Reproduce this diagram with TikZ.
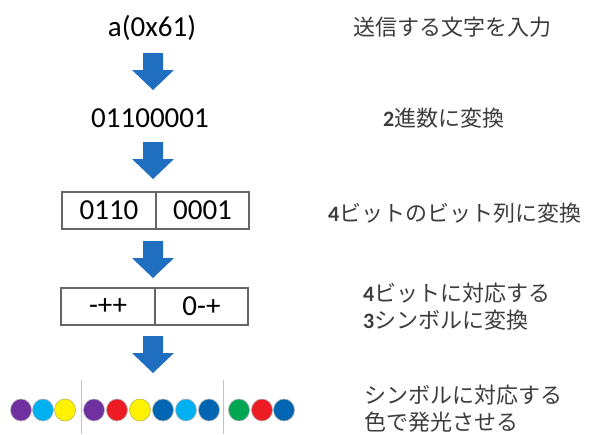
\documentclass[tikz,border=0pt]{standalone}
\usepackage{fontspec}
\usetikzlibrary{shapes.geometric}
\setmainfont{Carlito}
\newfontfamily\jp{Noto Sans CJK JP}
\definecolor{arrblue}{RGB}{31,110,192}
\definecolor{cpurple}{RGB}{112,48,160}
\definecolor{clblue}{RGB}{0,176,240}
\definecolor{cyellow}{RGB}{255,242,0}
\definecolor{cred}{RGB}{237,28,36}
\definecolor{cdblue}{RGB}{0,102,179}
\definecolor{cgreen}{RGB}{0,166,81}
\definecolor{sepblue}{RGB}{170,200,235}
\definecolor{jpgray}{RGB}{60,60,60}
\begin{document}
\begin{tikzpicture}[x=1pt,y=-1pt,
  lefttext/.style={font=\fontsize{29}{34}\selectfont, anchor=base, inner sep=0pt},
  jptext/.style={font=\jp\fontsize{22}{28}\selectfont, text=jpgray, anchor=base west, inner sep=0pt},
  cell/.style={draw=black!60, line width=1.2pt, minimum height=37pt, inner sep=0pt,
    font=\fontsize{29}{34}\selectfont},
  dot/.style={ellipse, minimum width=21pt, minimum height=22pt, inner sep=0pt, draw=black!30, line width=0.6pt},
  sep/.style={draw=sepblue, line width=1pt},
  blockarr/.pic={\fill[arrblue] (-10,0) -- (10,0) -- (10,17) -- (21,17) -- (0,37) -- (-21,17) -- (-10,17) -- cycle;}
]
\useasboundingbox (0,0) rectangle (589,434);
\newcommand{\bd}[1]{{\fontspec{Carlito}\bfseries #1}}

% left column
\node[lefttext] (t1) at (152,36) {a(0x61)};
\node[lefttext] (t2) at (150,127) {01100001};
\pic at (153,53) {blockarr};
\pic at (153,142) {blockarr};

\node[cell, minimum width=94pt] (c1a) at (109,210.5) {0110};
\node[cell, minimum width=93pt] (c1b) at (202.5,210.5) {0001};
\pic at (153,241) {blockarr};
\node[cell, minimum width=94pt] (c2a) at (108,306.5) {-++};
\node[cell, minimum width=93pt] (c2b) at (201.5,306.5) {0-+};
\pic at (153,336) {blockarr};

% separators
\coordinate (s1t) at (81,380); \coordinate (s1b) at (81,434);
\coordinate (s2t) at (223,380); \coordinate (s2b) at (223,434);
\draw[sep] (s1t) -- (s1b);
\draw[sep] (s2t) -- (s2b);

% dots
\node[dot, fill=cpurple] (d1) at (21,410) {};
\node[dot, fill=clblue] (d2) at (43,410) {};
\node[dot, fill=cyellow, draw=olive!60] (d3) at (65,410) {};
\node[dot, fill=cpurple] (d4) at (94,410) {};
\node[dot, fill=cred] (d5) at (117,410) {};
\node[dot, fill=cyellow, draw=olive!60] (d6) at (140,410) {};
\node[dot, fill=cdblue] (d7) at (163,410) {};
\node[dot, fill=clblue] (d8) at (186,410) {};
\node[dot, fill=cdblue] (d9) at (209,410) {};
\node[dot, fill=cgreen] (d10) at (239,410) {};
\node[dot, fill=cred] (d11) at (262,410) {};
\node[dot, fill=cdblue] (d12) at (284,410) {};

% right column
\node[jptext] (r1) at (353,35) {送信する文字を入力};
\node[jptext] (r2) at (383,126) {\bd{2}進数に変換};
\node[jptext] (r3) at (328,221) {\bd{4}ビットのビット列に変換};
\node[jptext] (r4a) at (363,301) {\bd{4}ビットに対応する};
\node[jptext] (r4b) at (363,328) {\bd{3}シンボルに変換};
\node[jptext] (r5a) at (364,403) {シンボルに対応する};
\node[jptext] (r5b) at (364,430) {色で発光させる};
\end{tikzpicture}
\end{document}
